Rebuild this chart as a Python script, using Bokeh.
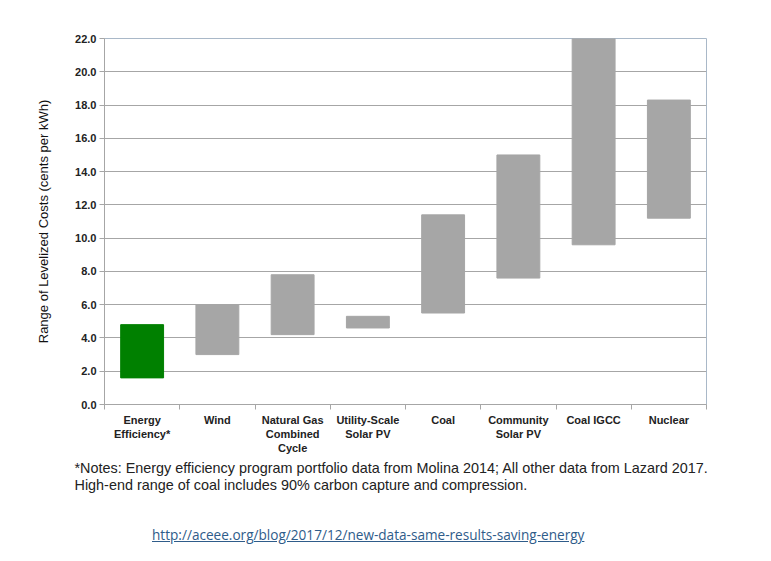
from bokeh.plotting import figure
from bokeh.models import Range1d, FixedTicker, Title, ColumnDataSource, NumeralTickFormatter, Div
from bokeh.layouts import column
from bokeh.embed import file_html
from bokeh.resources import INLINE

categories = ["Energy\nEfficiency*", "Wind", "Natural Gas\nCombined\nCycle", "Utility-Scale\nSolar PV",
              "Coal", "Community\nSolar PV", "Coal IGCC", "Nuclear"]
low_values = [1.6, 3.0, 4.2, 4.6, 5.5, 7.6, 9.6, 11.2]
high_values = [4.8, 6.0, 7.8, 5.3, 11.4, 15.0, 22.0, 18.3]
bar_colors = ["#008000"] + ["#a6a6a6"] * 7
y_ticks = [0, 2, 4, 6, 8, 10, 12, 14, 16, 18, 20, 22]
notes_line1 = "*Notes: Energy efficiency program portfolio data from Molina 2014; All other data from Lazard 2017."
notes_line2 = "High-end range of coal includes 90% carbon capture and compression."
source_url = "http://aceee.org/blog/2017/12/new-data-same-results-saving-energy"

xpos = [i + 0.5 for i in range(len(categories))]
src = ColumnDataSource(dict(x=xpos, low=low_values, high=high_values, color=bar_colors))

W, H = 760, 500
p = figure(width=W, height=H, output_backend="svg", toolbar_location=None,
           x_range=Range1d(0, len(categories)), y_range=Range1d(0, 22),
           min_border_left=104, min_border_top=38, min_border_right=W - 706, min_border_bottom=H - 404)
p.background_fill_color = "white"
p.border_fill_color = "white"
p.outline_line_color = "#a9b8c8"

p.vbar(x="x", bottom="low", top="high", width=0.57, color="color", source=src)

p.xgrid.grid_line_color = None
p.ygrid.grid_line_color = "#a6a6a6"
p.ygrid.grid_line_width = 1.2

p.yaxis.ticker = FixedTicker(ticks=y_ticks)
p.yaxis.formatter = NumeralTickFormatter(format="0.0")
p.yaxis.axis_line_color = "#a6a6a6"
p.yaxis.major_tick_line_color = "#a6a6a6"
p.yaxis.major_tick_out = 5
p.yaxis.major_tick_in = 0
p.yaxis.minor_tick_line_color = None
p.yaxis.major_label_text_font = "Liberation Sans"
p.yaxis.major_label_text_font_style = "bold"
p.yaxis.major_label_text_font_size = "11px"
p.yaxis.major_label_text_color = "#222222"
p.yaxis.major_label_standoff = 3
p.yaxis.axis_label = "Range of Levelized Costs (cents per kWh)"
p.yaxis.axis_label_text_font = "Liberation Sans"
p.yaxis.axis_label_text_font_style = "normal"
p.yaxis.axis_label_text_font_size = "13px"
p.yaxis.axis_label_text_color = "#111111"
p.yaxis.axis_label_standoff = 21

p.xaxis.ticker = FixedTicker(ticks=xpos, minor_ticks=list(range(len(categories) + 1)))
p.xaxis.major_label_overrides = {x: c for x, c in zip(xpos, categories)}
p.xaxis.axis_line_color = "#a6a6a6"
p.xaxis.major_tick_line_color = None
p.xaxis.minor_tick_line_color = "#a6a6a6"
p.xaxis.minor_tick_out = 5
p.xaxis.minor_tick_in = 0
p.xaxis.major_label_text_font = "Liberation Sans"
p.xaxis.major_label_text_font_style = "bold"
p.xaxis.major_label_text_font_size = "11px"
p.xaxis.major_label_text_color = "#222222"
p.xaxis.major_label_standoff = 3

for i, t in enumerate([notes_line1, notes_line2]):
    p.add_layout(Title(text=t, align="left", offset=-30, standoff=0 if i == 0 else -1,
                       text_font="Liberation Sans", text_font_size="14.4px", text_font_style="normal",
                       text_color="#222222"), "below")

url_div = Div(text=f'<a href="{source_url}" style="color:#2f5c8a;text-decoration:underline;'
                   f'font-family:\'Open Sans\';font-size:13.6px">{source_url}</a>',
              margin=(25, 0, 0, 152))

open("out.html", "w").write(file_html(column(p, url_div), INLINE))
